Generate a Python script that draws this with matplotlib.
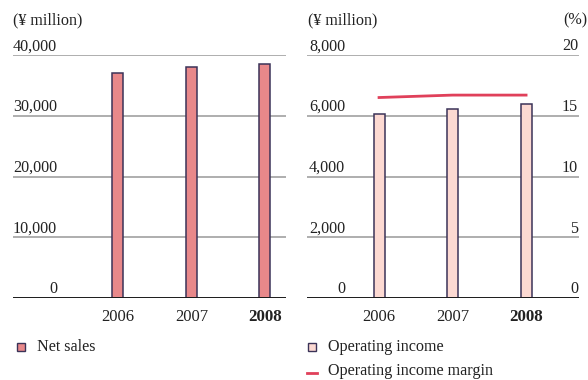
import matplotlib
matplotlib.use('Agg')
import matplotlib.pyplot as plt
import matplotlib.transforms as mtransforms
from matplotlib.patches import Rectangle
from matplotlib.lines import Line2D

plt.rcParams['font.family'] = ['Liberation Serif', 'DejaVu Serif']

years = ['2006', '2007', '2008']
net_sales = [37100, 38100, 38600]
operating_income = [6050, 6230, 6400]
operating_margin = [16.5, 16.7, 16.7]

sales_ticks = [0, 10000, 20000, 30000, 40000]
income_ticks = [0, 2000, 4000, 6000, 8000]
margin_ticks = [0, 5, 10, 15, 20]

W, H = 588, 380
sales_color = '#e8888a'
income_color = '#fcd9d2'
edge_color = '#3b3358'
margin_color = '#e0405a'
grid_color = '#a8a8a8'
text_color = '#222222'
fs = 11.6

fig = plt.figure(figsize=(W / 100, H / 100), dpi=100)


def px_axes(x0, x1, y_top, y_bot):
    return fig.add_axes([x0 / W, 1 - y_bot / H, (x1 - x0) / W, (y_bot - y_top) / H])


def style(ax, ticks, xlim, label_x):
    ax.set_xlim(*xlim)
    ax.set_ylim(ticks[0], ticks[-1])
    for s in ax.spines.values():
        s.set_visible(False)
    ax.set_xticks([])
    ax.set_yticks([])
    for t in ticks[1:]:
        ax.axhline(t, color=grid_color, lw=1.3, zorder=0)
    ax.axhline(0, color='#1a1a1a', lw=1.4, zorder=3)
    tr = mtransforms.blended_transform_factory(ax.transAxes, ax.transData)
    off = mtransforms.offset_copy(tr, fig=fig, x=0, y=0.5, units='points')
    for t in ticks:
        ax.text(label_x, t, f'{t:,}', transform=off, ha='right', va='bottom',
                fontsize=fs, color=text_color)
    for i, y in enumerate(years):
        ax.text(i, -0.08, y, transform=mtransforms.blended_transform_factory(ax.transData, ax.transAxes),
                ha='center', va='center', fontsize=12.2 if y == '2008' else 12,
                fontweight='bold' if y == '2008' else 'normal', color=text_color)


x = range(len(years))
bw = 0.15

# net sales panel
ax1 = px_axes(13, 286, 55, 298)
style(ax1, sales_ticks, (-1.43, 2.29), (57 - 13) / 273)
ax1.bar(x, net_sales, width=bw, color=sales_color, edgecolor=edge_color, lw=1.1, zorder=2)
fig.text(13 / W, 1 - 20 / H, '(¥ million)', ha='left', va='center', fontsize=fs, color=text_color)

# operating income panel
ax2 = px_axes(307, 579, 55, 298)
style(ax2, income_ticks, (-0.98, 2.72), (345 - 307) / 272)
ax2.bar(x, operating_income, width=bw, color=income_color, edgecolor=edge_color, lw=1.1, zorder=2)
ax3 = ax2.twinx()
ax3.set_ylim(margin_ticks[0], margin_ticks[-1])
ax3.set_yticks([])
for s in ax3.spines.values():
    s.set_visible(False)
ax3.plot(x, operating_margin, color=margin_color, lw=2, zorder=4)
tr = mtransforms.blended_transform_factory(ax3.transAxes, ax3.transData)
off = mtransforms.offset_copy(tr, fig=fig, x=0, y=0.5, units='points')
for t in margin_ticks:
    ax3.text((578 - 307) / 272, t, str(t), transform=off, ha='right', va='bottom',
             fontsize=fs, color=text_color)
fig.text(308 / W, 1 - 20 / H, '(¥ million)', ha='left', va='center', fontsize=fs, color=text_color)
fig.text(587 / W, 1 - 20 / H, '(%)', ha='right', va='center', fontsize=fs, color=text_color)

# legends
fig.patches.append(Rectangle((17 / W, 1 - 351 / H), 8 / W, 8 / H, transform=fig.transFigure,
                             facecolor=sales_color, edgecolor=edge_color, lw=1))
fig.text(37 / W, 1 - 347 / H, 'Net sales', ha='left', va='center', fontsize=fs, color=text_color)
fig.patches.append(Rectangle((308 / W, 1 - 351 / H), 8 / W, 8 / H, transform=fig.transFigure,
                             facecolor=income_color, edgecolor=edge_color, lw=1))
fig.text(328 / W, 1 - 347 / H, 'Operating income', ha='left', va='center', fontsize=fs, color=text_color)
fig.lines.append(Line2D([307 / W, 317 / W], [1 - 373 / H, 1 - 373 / H], transform=fig.transFigure,
                        color=margin_color, lw=2))
fig.text(328 / W, 1 - 371 / H, 'Operating income margin', ha='left', va='center', fontsize=fs, color=text_color)

fig.savefig('out.png', dpi=100)
